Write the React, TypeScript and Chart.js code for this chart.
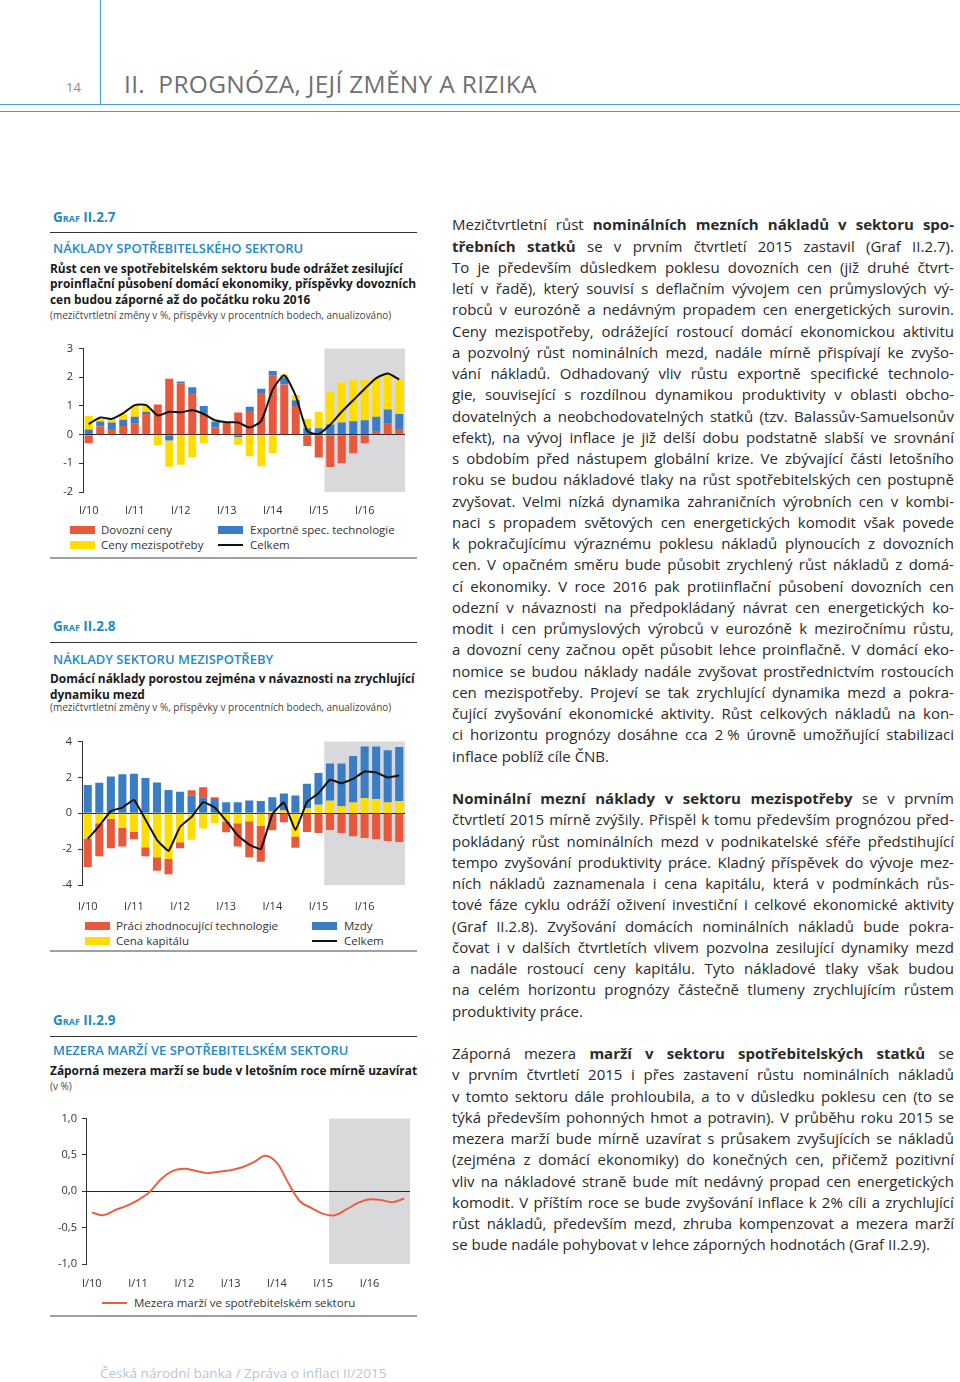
import React, { useEffect, useRef } from 'react';
import { Chart, registerables } from 'chart.js';

Chart.register(...registerables);

const FONT = "'Open Sans', sans-serif";
Chart.defaults.font.family = FONT;

// ---------- DATA ----------
const quarters = [
  'I/10', 'II/10', 'III/10', 'IV/10',
  'I/11', 'II/11', 'III/11', 'IV/11',
  'I/12', 'II/12', 'III/12', 'IV/12',
  'I/13', 'II/13', 'III/13', 'IV/13',
  'I/14', 'II/14', 'III/14', 'IV/14',
  'I/15', 'II/15', 'III/15', 'IV/15',
  'I/16', 'II/16', 'III/16', 'IV/16',
];
const forecastStart = 'II/15';

// Graf II.2.7
const dovozniCeny = [-0.3, 0.28, 0.2, 0.3, 0.38, 0.72, 1.05, 1.95, 1.78, 1.45, 0.73, 0.26, 0.42, 0.77, 0.82, 1.45, 2.05, 1.75, 1.0, -0.4, -0.8, -1.13, -1.0, -0.65, -0.3, 0.1, 0.38, 0.2];
const exportneSpecTech = [0.18, 0.18, 0.22, 0.22, 0.24, 0.08, -0.03, -0.2, 0.07, 0.2, 0.27, 0.19, -0.02, -0.08, 0.15, 0.15, 0.17, 0.25, 0.2, 0.22, 0.22, 0.35, 0.42, 0.47, 0.5, 0.52, 0.5, 0.52];
const cenyMezispotreby = [0.47, 0.1, 0.13, 0.2, 0.38, 0.2, -0.35, -0.92, -1.05, -0.8, -0.3, 0.04, 0.02, -0.27, -0.75, -1.1, -0.65, 0.1, 0.18, 0.33, 0.58, 1.15, 1.4, 1.43, 1.42, 1.36, 1.24, 1.2];
const celkem7 = [0.37, 0.6, 0.55, 0.75, 1.03, 1.03, 0.67, 0.8, 0.78, 0.85, 0.72, 0.5, 0.43, 0.42, 0.25, 0.48, 1.57, 2.07, 1.35, 0.13, 0.02, 0.35, 0.8, 1.2, 1.6, 1.97, 2.13, 1.92];
const yTicks7 = { min: -2, max: 3, step: 1 };

// Graf II.2.8
const cenaKapitalu = [-1.4, -0.55, -0.3, -0.8, -1.05, -1.9, -2.45, -2.55, -1.62, -1.48, -0.85, -0.55, -0.46, -0.55, -0.45, -0.7, 0.1, 0.15, -1.3, 0.27, 0.48, 0.7, 0.4, 0.6, 0.85, 0.8, 0.6, 0.68];
const mzdy = [1.58, 1.7, 2.05, 2.18, 2.2, 1.97, 1.72, 1.3, 1.2, 1.0, 0.9, 0.8, 0.62, 0.62, 0.72, 0.68, 0.8, 0.95, 1.0, 1.38, 1.77, 2.08, 2.38, 2.6, 2.87, 2.92, 2.92, 3.02];
const praciZhodnTech = [-1.6, -1.85, -1.65, -1.05, -0.4, -0.5, -0.75, -0.85, -0.33, 0.28, 0.55, 0.1, -0.6, -1.3, -2.0, -2.0, -0.95, -0.5, -0.62, -1.05, -1.1, -0.93, -1.1, -1.28, -1.38, -1.45, -1.55, -1.6];
const celkem8 = [-1.43, -0.7, 0.12, 0.32, 0.75, -0.35, -1.48, -2.1, -0.75, -0.2, 0.62, 0.32, -0.42, -1.23, -1.75, -2.0, -0.05, 0.6, -0.93, 0.63, 1.12, 1.87, 1.68, 1.92, 2.33, 2.28, 2.0, 2.12];
const yTicks8 = { min: -4, max: 4, step: 2 };

// Graf II.2.9
const mezeraMarzi = [-0.29, -0.33, -0.26, -0.2, -0.12, -0.01, 0.17, 0.28, 0.31, 0.28, 0.25, 0.27, 0.29, 0.33, 0.4, 0.49, 0.39, 0.11, -0.14, -0.23, -0.31, -0.33, -0.25, -0.16, -0.11, -0.12, -0.15, -0.1];
const yTicks9 = { min: -1, max: 1, step: 0.5 };

// ---------- STYLE ----------
const RED = '#E8583C';
const BLUE = '#3A7DC4';
const YELLOW = '#FFDD00';
const SHADE = '#D9D9DB';
const LINE_RED = '#E8613F';
const TEXT = '#333333';
const HEAD_BLUE = '#1F8AC4';

const shadePlugin = {
  id: 'forecastShade',
  beforeDraw(chart: any) {
    const { ctx, chartArea, scales } = chart;
    const x = scales.x;
    const idx = quarters.indexOf(forecastStart);
    const half = (x.getPixelForValue(1) - x.getPixelForValue(0)) / 2;
    const left = x.getPixelForValue(idx) - half;
    ctx.save();
    ctx.fillStyle = SHADE;
    ctx.fillRect(left, chartArea.top, chartArea.right - left, chartArea.bottom - chartArea.top);
    ctx.restore();
  },
};

function yAxis(t: { min: number; max: number; step: number }, width: number, pad: number, comma: boolean, stacked: boolean) {
  const ticks: any = { stepSize: t.step, color: TEXT, font: { family: FONT, size: 11 }, padding: pad };
  if (comma) ticks.callback = (v: any) => Number(v).toFixed(1).replace('.', ',');
  return {
    min: t.min,
    max: t.max,
    stacked,
    ticks,
    grid: {
      drawOnChartArea: true,
      drawTicks: true,
      tickLength: 4,
      tickColor: '#333',
      lineWidth: 1,
      color: (c: any) => (c.tick && Math.abs(c.tick.value) < 1e-9 ? '#222' : 'rgba(0,0,0,0)'),
    },
    border: { display: true, color: '#333', width: 1 },
    afterFit: (s: any) => { s.width = width; },
  };
}

function xAxis(height: number, pad: number, stacked: boolean) {
  return {
    stacked,
    offset: true,
    grid: { display: false, drawTicks: false },
    border: { display: false },
    ticks: {
      autoSkip: false,
      maxRotation: 0,
      minRotation: 0,
      padding: pad,
      color: TEXT,
      font: { family: FONT, size: 11 },
      callback: (_v: any, i: number) => (i % 4 === 0 ? quarters[i] : ''),
    },
    afterFit: (s: any) => { s.height = height; },
  };
}

const basePlugins = { legend: { display: false }, tooltip: { enabled: false } };

function config7(): any {
  return {
    type: 'bar',
    data: {
      labels: quarters,
      datasets: [
        { type: 'line', label: 'Celkem', data: celkem7, borderColor: '#111', borderWidth: 2, pointRadius: 0, tension: 0.2, stack: 'line', order: -1 },
        { label: 'Dovozní ceny', data: dovozniCeny, backgroundColor: RED, stack: 'b', barPercentage: 0.7, categoryPercentage: 1 },
        { label: 'Exportně spec. technologie', data: exportneSpecTech, backgroundColor: BLUE, stack: 'b', barPercentage: 0.7, categoryPercentage: 1 },
        { label: 'Ceny mezispotřeby', data: cenyMezispotreby, backgroundColor: YELLOW, stack: 'b', barPercentage: 0.7, categoryPercentage: 1 },
      ],
    },
    options: {
      responsive: false,
      animation: false,
      devicePixelRatio: 1,
      layout: { padding: { top: 10, right: 10, left: 0, bottom: 0 } },
      plugins: basePlugins,
      scales: { x: xAxis(28, 12, true), y: yAxis(yTicks7, 43, 6, false, true) },
    },
    plugins: [shadePlugin],
  };
}

function config8(): any {
  return {
    type: 'bar',
    data: {
      labels: quarters,
      datasets: [
        { type: 'line', label: 'Celkem', data: celkem8, borderColor: '#111', borderWidth: 2, pointRadius: 0, tension: 0.1, stack: 'line', order: -1 },
        { label: 'Cena kapitálu', data: cenaKapitalu, backgroundColor: YELLOW, stack: 'b', barPercentage: 0.7, categoryPercentage: 1 },
        { label: 'Mzdy', data: mzdy, backgroundColor: BLUE, stack: 'b', barPercentage: 0.7, categoryPercentage: 1 },
        { label: 'Práci zhodnocující technologie', data: praciZhodnTech, backgroundColor: RED, stack: 'b', barPercentage: 0.7, categoryPercentage: 1 },
      ],
    },
    options: {
      responsive: false,
      animation: false,
      devicePixelRatio: 1,
      layout: { padding: { top: 10, right: 10, left: 0, bottom: 0 } },
      plugins: basePlugins,
      scales: { x: xAxis(30, 15, true), y: yAxis(yTicks8, 42, 6, false, true) },
    },
    plugins: [shadePlugin],
  };
}

function config9(): any {
  return {
    type: 'line',
    data: {
      labels: quarters,
      datasets: [
        { label: 'Mezera marží ve spotřebitelském sektoru', data: mezeraMarzi, borderColor: LINE_RED, borderWidth: 2, pointRadius: 0, tension: 0.35 },
      ],
    },
    options: {
      responsive: false,
      animation: false,
      devicePixelRatio: 1,
      layout: { padding: { top: 10, right: 10, left: 0, bottom: 0 } },
      plugins: basePlugins,
      scales: { x: xAxis(30, 13, false), y: yAxis(yTicks9, 46, 5, true, false) },
    },
    plugins: [shadePlugin],
  };
}

function ChartCanvas({ left, top, width, height, make }: { left: number; top: number; width: number; height: number; make: () => any }) {
  const ref = useRef<HTMLCanvasElement>(null);
  useEffect(() => {
    const chart = new Chart(ref.current as HTMLCanvasElement, make());
    return () => chart.destroy();
  }, []);
  return <canvas ref={ref} width={width} height={height} style={{ position: 'absolute', left, top, width, height }} />;
}

// ---------- TEXT HELPERS ----------
function T({ left, cy, size, lh, children, style }: any) {
  return (
    <div style={{ position: 'absolute', left, top: cy - lh / 2, fontSize: size, lineHeight: lh + 'px', whiteSpace: 'nowrap', ...style }}>
      {children}
    </div>
  );
}

function Box({ left, top, width, height, bg }: any) {
  return <div style={{ position: 'absolute', left, top, width, height, background: bg }} />;
}

function Swatch({ left, cy, color, line }: any) {
  if (line) return <div style={{ position: 'absolute', left, top: cy - 1, width: 25, height: 2, background: color }} />;
  return <div style={{ position: 'absolute', left, top: cy - 4, width: 25, height: 8, background: color }} />;
}

function LegendText({ left, cy, children }: any) {
  return <T left={left} cy={cy} size={11.5} lh={14} style={{ color: TEXT }}>{children}</T>;
}

function SectionHead({ graf, gy, ry, title, ty, sub, sy, note, ny }: any) {
  return (
    <>
      <T left={53} cy={gy} size={13.5} lh={16} style={{ color: HEAD_BLUE, fontWeight: 700, fontVariant: 'small-caps' }}>{graf}</T>
      <Box left={50} top={ry} width={367} height={1} bg="#333" />
      <T left={53} cy={ty} size={13} lh={16} style={{ color: HEAD_BLUE, fontWeight: 600 }}>{title}</T>
      <div style={{ position: 'absolute', left: 50, top: sy - 7.75, fontSize: 11.9, lineHeight: '15.5px', fontWeight: 700, color: '#1a1a1a', whiteSpace: 'nowrap' }}>
        {sub.map((s: string, i: number) => <div key={i}>{s}</div>)}
      </div>
      <T left={50} cy={ny} size={10} lh={12} style={{ color: '#444' }}>{note}</T>
    </>
  );
}

const LH = 21.25;
const para1 = [
  'Mezičtvrtletní růst **nominálních mezních nákladů v sektoru spo-**',
  '**třebních statků** se v prvním čtvrtletí 2015 zastavil (Graf II.2.7).',
  'To je především důsledkem poklesu dovozních cen (již druhé čtvrt-',
  'letí v řadě), který souvisí s deflačním vývojem cen průmyslových vý-',
  'robců v eurozóně a nedávným propadem cen energetických surovin.',
  'Ceny mezispotřeby, odrážející rostoucí domácí ekonomickou aktivitu',
  'a pozvolný růst nominálních mezd, nadále mírně přispívají ke zvyšo-',
  'vání nákladů. Odhadovaný vliv růstu exportně specifické technolo-',
  'gie, související s rozdílnou dynamikou produktivity v oblasti obcho-',
  'dovatelných a neobchodovatelných statků (tzv. Balassův-Samuelsonův',
  'efekt), na vývoj inflace je již delší dobu podstatně slabší ve srovnání',
  's obdobím před nástupem globální krize. Ve zbývající části letošního',
  'roku se budou nákladové tlaky na růst spotřebitelských cen postupně',
  'zvyšovat. Velmi nízká dynamika zahraničních výrobních cen v kombi-',
  'naci s propadem světových cen energetických komodit však povede',
  'k pokračujícímu výraznému poklesu nákladů plynoucích z dovozních',
  'cen. V opačném směru bude působit zrychlený růst nákladů z domá-',
  'cí ekonomiky. V roce 2016 pak protiinflační působení dovozních cen',
  'odezní v návaznosti na předpokládaný návrat cen energetických ko-',
  'modit i cen průmyslových výrobců v eurozóně k meziročnímu růstu,',
  'a dovozní ceny začnou opět působit lehce proinflačně. V domácí eko-',
  'nomice se budou náklady nadále zvyšovat prostřednictvím rostoucích',
  'cen mezispotřeby. Projeví se tak zrychlující dynamika mezd a pokra-',
  'čující zvyšování ekonomické aktivity. Růst celkových nákladů na kon-',
  'ci horizontu prognózy dosáhne cca 2\u00a0% úrovně umožňující stabilizaci',
  'inflace poblíž cíle ČNB.',
];
const para2 = [
  '**Nominální mezní náklady v sektoru mezispotřeby** se v prvním',
  'čtvrtletí 2015 mírně zvýšily. Přispěl k tomu především prognózou před-',
  'pokládaný růst nominálních mezd v podnikatelské sféře předstihující',
  'tempo zvyšování produktivity práce. Kladný příspěvek do vývoje mez-',
  'ních nákladů zaznamenala i cena kapitálu, která v podmínkách růs-',
  'tové fáze cyklu odráží oživení investiční i celkové ekonomické aktivity',
  '(Graf II.2.8). Zvyšování domácích nominálních nákladů bude pokra-',
  'čovat i v dalších čtvrtletích vlivem pozvolna zesilující dynamiky mezd',
  'a nadále rostoucí ceny kapitálu. Tyto nákladové tlaky však budou',
  'na celém horizontu prognózy částečně tlumeny zrychlujícím růstem',
  'produktivity práce.',
];
const para3 = [
  'Záporná mezera **marží v sektoru spotřebitelských statků** se',
  'v prvním čtvrtletí 2015 i přes zastavení růstu nominálních nákladů',
  'v tomto sektoru dále prohloubila, a to v důsledku poklesu cen (to se',
  'týká především pohonných hmot a potravin). V průběhu roku 2015 se',
  'mezera marží bude mírně uzavírat s průsakem zvyšujících se nákladů',
  '(zejména z domácí ekonomiky) do konečných cen, přičemž pozitivní',
  'vliv na nákladové straně bude mít nedávný propad cen energetických',
  'komodit. V příštím roce se bude zvyšování inflace k 2% cíli a zrychlující',
  'růst nákladů, především mezd, zhruba kompenzovat a mezera marží',
  'se bude nadále pohybovat v lehce záporných hodnotách (Graf II.2.9).',
];

function Line({ text, justify }: { text: string; justify: boolean }) {
  const parts = text.split('**');
  const words: { t: string; b: boolean }[] = [];
  parts.forEach((p, idx) => {
    p.split(' ').forEach((w) => { if (w) words.push({ t: w, b: idx % 2 === 1 }); });
  });
  if (!justify) {
    return (
      <div style={{ height: LH, whiteSpace: 'nowrap' }}>
        {words.map((w, i) => <span key={i} style={{ fontWeight: w.b ? 700 : 400 }}>{(i ? ' ' : '') + w.t}</span>)}
      </div>
    );
  }
  return (
    <div style={{ height: LH, display: 'flex', justifyContent: 'space-between', whiteSpace: 'nowrap' }}>
      {words.map((w, i) => <span key={i} style={{ fontWeight: w.b ? 700 : 400 }}>{w.t}</span>)}
    </div>
  );
}

function Para({ lines }: { lines: string[] }) {
  return (
    <div style={{ marginBottom: LH }}>
      {lines.map((l, i) => <Line key={i} text={l} justify={i < lines.length - 1} />)}
    </div>
  );
}

export default function App() {
  return (
    <div style={{ position: 'absolute', left: 0, top: 0, width: 960, height: 1382, background: '#fff', fontFamily: FONT, overflow: 'hidden', color: TEXT }}>
      {/* header */}
      <Box left={100} top={0} width={1} height={104} bg="#4B9ED1" />
      <Box left={0} top={104} width={960} height={1} bg="#4B9ED1" />
      <Box left={0} top={111} width={960} height={1} bg="#4B9ED1" />
      <T left={66} cy={87} size={13} lh={16} style={{ color: '#8C8C8C' }}>14</T>
      <T left={124} cy={84} size={24.5} lh={30} style={{ color: '#707070', letterSpacing: 0.3 }}>II.{'\u00a0'} PROGNÓZA, JEJÍ ZMĚNY A RIZIKA</T>

      {/* Graf II.2.7 */}
      <SectionHead
        graf="Graf II.2.7" gy={217} ry={232}
        title="NÁKLADY SPOTŘEBITELSKÉHO SEKTORU" ty={248}
        sub={['Růst cen ve spotřebitelském sektoru bude odrážet zesilující', 'proinflační působení domácí ekonomiky, příspěvky dovozních', 'cen budou záporné až do počátku roku 2016']} sy={268.5}
        note="(mezičtvrtletní změny v %, příspěvky v procentních bodech, anualizováno)" ny={315}
      />
      <ChartCanvas left={40} top={336} width={375} height={184} make={config7} />
      <Swatch left={70} cy={530} color={RED} />
      <LegendText left={101} cy={530}>Dovozní ceny</LegendText>
      <Swatch left={218} cy={530} color={BLUE} />
      <LegendText left={250} cy={530}>Exportně spec. technologie</LegendText>
      <Swatch left={70} cy={545} color={YELLOW} />
      <LegendText left={101} cy={545}>Ceny mezispotřeby</LegendText>
      <Swatch left={218} cy={545} color="#111" line />
      <LegendText left={250} cy={545}>Celkem</LegendText>
      <Box left={50} top={557} width={367} height={1.5} bg="#A0A0A0" />

      {/* Graf II.2.8 */}
      <SectionHead
        graf="Graf II.2.8" gy={625.5} ry={642}
        title="NÁKLADY SEKTORU MEZISPOTŘEBY" ty={658.5}
        sub={['Domácí náklady porostou zejména v návaznosti na zrychlující', 'dynamiku mezd']} sy={679}
        note="(mezičtvrtletní změny v %, příspěvky v procentních bodech, anualizováno)" ny={707}
      />
      <ChartCanvas left={40} top={729} width={375} height={186} make={config8} />
      <Swatch left={85} cy={926} color={RED} />
      <LegendText left={116} cy={926}>Práci zhodnocující technologie</LegendText>
      <Swatch left={312} cy={926} color={BLUE} />
      <LegendText left={344} cy={926}>Mzdy</LegendText>
      <Swatch left={85} cy={941} color={YELLOW} />
      <LegendText left={116} cy={941}>Cena kapitálu</LegendText>
      <Swatch left={312} cy={941} color="#111" line />
      <LegendText left={344} cy={941}>Celkem</LegendText>
      <Box left={50} top={950} width={367} height={1.5} bg="#A0A0A0" />

      {/* Graf II.2.9 */}
      <SectionHead
        graf="Graf II.2.9" gy={1020} ry={1036}
        title="MEZERA MARŽÍ VE SPOTŘEBITELSKÉM SEKTORU" ty={1050}
        sub={['Záporná mezera marží se bude v letošním roce mírně uzavírat']} sy={1071}
        note="(v %)" ny={1086}
      />
      <ChartCanvas left={40} top={1107} width={380} height={187} make={config9} />
      <Swatch left={102} cy={1303} color={LINE_RED} line />
      <LegendText left={134} cy={1303}>Mezera marží ve spotřebitelském sektoru</LegendText>
      <Box left={50} top={1315} width={367} height={1.5} bg="#A0A0A0" />

      {/* right column text */}
      <div style={{ position: 'absolute', left: 452, top: 214.4, width: 502, fontSize: 15, lineHeight: LH + 'px', color: '#2A2A2A' }}>
        <Para lines={para1} />
        <Para lines={para2} />
        <Para lines={para3} />
      </div>

      {/* footer */}
      <T left={100} cy={1373} size={13.5} lh={18} style={{ color: '#B5C6D6' }}>Česká národní banka / Zpráva o inflaci II/2015</T>
    </div>
  );
}
